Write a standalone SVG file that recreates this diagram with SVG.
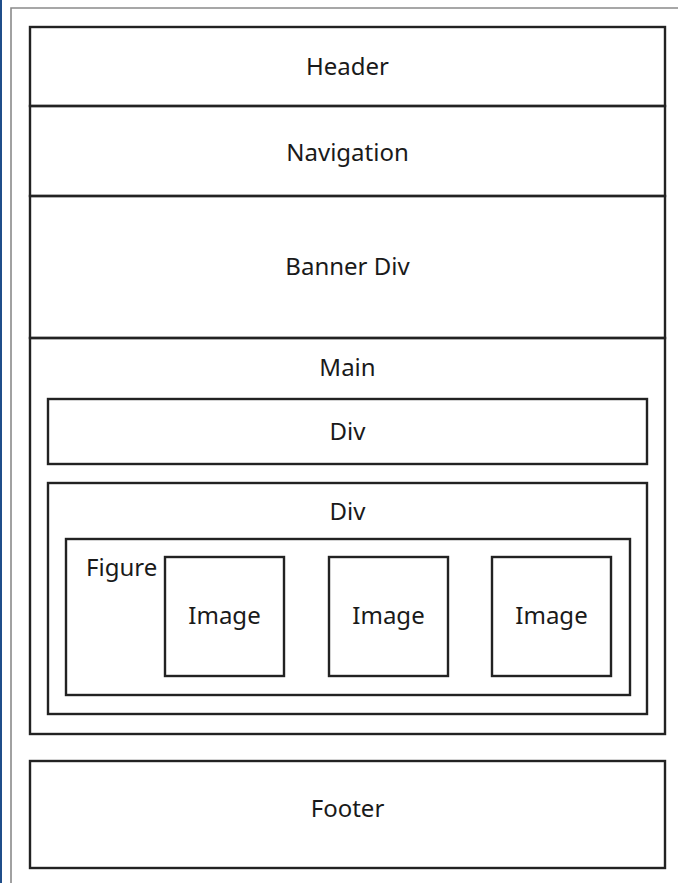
<svg xmlns="http://www.w3.org/2000/svg" width="678" height="883" viewBox="0 0 678 883">
<style>
.box{fill:none;stroke:#222;stroke-width:2.4}
.lbl{font-family:"Noto Sans","Open Sans",sans-serif;font-size:24px;fill:#1a1a1a;text-anchor:middle}
</style>
<rect x="0" y="0" width="678" height="883" fill="#fff"/>
<rect x="0" y="0" width="2" height="883" fill="#1f4e8a"/>
<path d="M11 883 V8 H678" fill="none" stroke="#8a8a8a" stroke-width="1.6"/>
<g id="header"><rect class="box" x="30" y="27" width="635" height="79"/><text class="lbl" x="347.5" y="75">Header</text></g>
<g id="navigation"><rect class="box" x="30" y="106" width="635" height="90"/><text class="lbl" x="347.5" y="161">Navigation</text></g>
<g id="banner"><rect class="box" x="30" y="196" width="635" height="142"/><text class="lbl" x="347.5" y="275">Banner Div</text></g>
<g id="main"><rect class="box" x="30" y="338" width="635" height="396"/><text class="lbl" x="347.5" y="376">Main</text></g>
<g id="div1"><rect class="box" x="48" y="399" width="599" height="65"/><text class="lbl" x="347.5" y="440">Div</text></g>
<g id="div2"><rect class="box" x="48" y="483" width="599" height="231"/><text class="lbl" x="347.5" y="520">Div</text></g>
<g id="figure"><rect class="box" x="66" y="539" width="564" height="156"/><text class="lbl" x="86" y="576" style="text-anchor:start">Figure</text></g>
<g id="image1"><rect class="box" x="165" y="557" width="119" height="119"/><text class="lbl" x="224.5" y="624">Image</text></g>
<g id="image2"><rect class="box" x="329" y="557" width="119" height="119"/><text class="lbl" x="388.5" y="624">Image</text></g>
<g id="image3"><rect class="box" x="492" y="557" width="119" height="119"/><text class="lbl" x="551.5" y="624">Image</text></g>
<g id="footer"><rect class="box" x="30" y="761" width="635" height="107"/><text class="lbl" x="347.5" y="817">Footer</text></g>
<g id="connectors"></g>
</svg>
